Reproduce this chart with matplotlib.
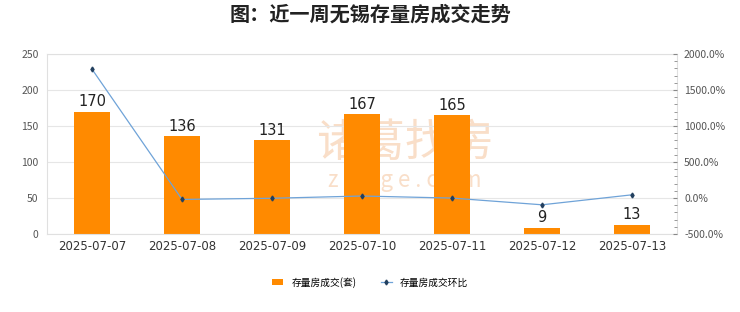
import matplotlib
matplotlib.use('Agg')
import matplotlib.pyplot as plt
from matplotlib.ticker import FuncFormatter, MultipleLocator

plt.rcParams['font.family'] = ['Noto Sans CJK SC', 'DejaVu Sans']

# 数据
dates = ['2025-07-07', '2025-07-08', '2025-07-09', '2025-07-10',
         '2025-07-11', '2025-07-12', '2025-07-13']
deals = [170, 136, 131, 167, 165, 9, 13]
pct = [1788.9, -20.0, -3.7, 27.5, -1.2, -94.5, 44.4]

bar_color = '#FF8A00'
line_color = '#6FA3D8'
marker_color = '#23405F'
wm_color = '#F9DEC8'

fig = plt.figure(figsize=(7.4, 3.12), dpi=100)
ax = fig.add_axes([0.0635, 0.25, 0.8515, 0.577])
ax2 = ax.twinx()

x = range(len(dates))

# 水印 (画在柱子后面)
ax.text(3.48, 127, '诸葛找房', ha='center', va='center', fontsize=32,
        color=wm_color, zorder=1)
ax.text(3.48, 74, 'z h u g e . c o m', ha='center', va='center', fontsize=16,
        color=wm_color, zorder=1)

bars = ax.bar(x, deals, width=0.4, color=bar_color, zorder=2, label='存量房成交(套)')
for xi, v in zip(x, deals):
    ax.text(xi, v + 3, str(v), ha='center', va='bottom', fontsize=10.5,
            color='#222222', family=['DejaVu Sans'], zorder=4)

ax.set_xlim(-0.5, len(dates) - 0.5)
ax.set_ylim(0, 250)
ax.yaxis.set_major_locator(MultipleLocator(50))
ax.set_xticks(list(x))
ax.set_xticklabels(dates, fontsize=8.5, color='#333333', family=['DejaVu Sans'])
ax.tick_params(axis='x', length=0, pad=4)
ax.tick_params(axis='y', length=0, labelsize=7.5, labelcolor='#555555', pad=6)
ax.grid(axis='y', color='#E6E6E6', linewidth=0.8, zorder=0)
for s in ax.spines.values():
    s.set_color('#E0E0E0')
    s.set_linewidth(0.8)

line, = ax2.plot(list(x), pct, color=line_color, linewidth=0.9, marker='d',
                 markersize=2.5, markerfacecolor=marker_color,
                 markeredgecolor=marker_color, zorder=3, label='存量房成交环比')
ax2.set_ylim(-500, 2000)
ax2.yaxis.set_major_locator(MultipleLocator(500))
ax2.yaxis.set_minor_locator(MultipleLocator(100))
ax2.yaxis.set_major_formatter(FuncFormatter(lambda v, p: f'{v:.1f}%'))
ax2.tick_params(axis='y', which='major', length=3, direction='in', color='#888888',
                labelsize=7.5, labelcolor='#555555', pad=5)
ax2.tick_params(axis='y', which='minor', length=2, direction='in', color='#888888')
for s in ax2.spines.values():
    s.set_visible(False)

fig.suptitle('图：近一周无锡存量房成交走势', fontsize=14.5, fontweight='bold',
             color='#222222', y=0.99)

fig.legend([bars, line], ['存量房成交(套)', '存量房成交环比'], loc='center',
           bbox_to_anchor=(0.5, 0.095), ncol=2, frameon=False, fontsize=7,
           handlelength=1.2, handleheight=0.6, columnspacing=2.5)

fig.savefig('out.png', dpi=100)
